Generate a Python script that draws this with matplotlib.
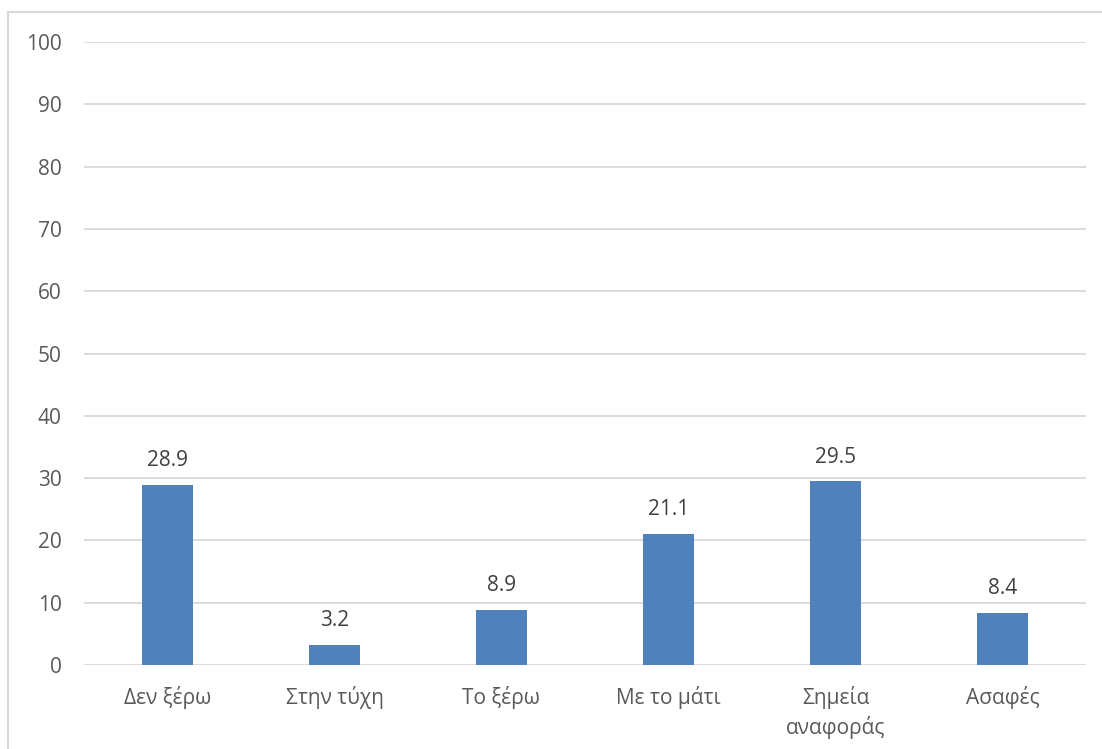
import matplotlib.pyplot as plt
from matplotlib.patches import Rectangle

categories = ['Δεν ξέρω', 'Στην τύχη', 'Το ξέρω', 'Με το μάτι', 'Σημεία\nαναφοράς', 'Ασαφές']
values = [28.9, 3.2, 8.9, 21.1, 29.5, 8.4]
yticks = list(range(0, 101, 10))

plt.rcParams['font.family'] = ['Open Sans', 'DejaVu Sans']

fig = plt.figure(figsize=(11.02, 7.49), dpi=100)
ax = fig.add_axes([84 / 1102, 1 - 665 / 749, 1002 / 1102, 623 / 749])

# light frame around the whole chart
fig.patches.append(Rectangle((8 / 1102, -0.05), 1.1, 1 - 12 / 749 + 0.05,
                             transform=fig.transFigure, fill=False,
                             edgecolor='#d9d9d9', linewidth=1.5))

x = range(len(categories))
bars = ax.bar(x, values, width=0.31, color='#4f81bd', zorder=3)
for b, v in zip(bars, values):
    ax.text(b.get_x() + b.get_width() / 2, v + 3.0, f'{v:.1f}',
            ha='center', va='baseline', fontsize=15, color='#404040')

ax.set_xlim(-0.5, len(categories) - 0.5)
ax.set_ylim(0, 100)
ax.set_yticks(yticks)
ax.set_xticks(list(x))
ax.set_xticklabels(categories, fontsize=15, color='#595959', linespacing=1.4, va='top')
ax.tick_params(axis='y', labelsize=15, labelcolor='#595959', length=0, pad=16)
ax.tick_params(axis='x', length=0, pad=15)
ax.grid(axis='y', color='#d9d9d9', linewidth=1.3, zorder=0)
for s in ax.spines.values():
    s.set_visible(False)

fig.savefig('out.png', dpi=100)
